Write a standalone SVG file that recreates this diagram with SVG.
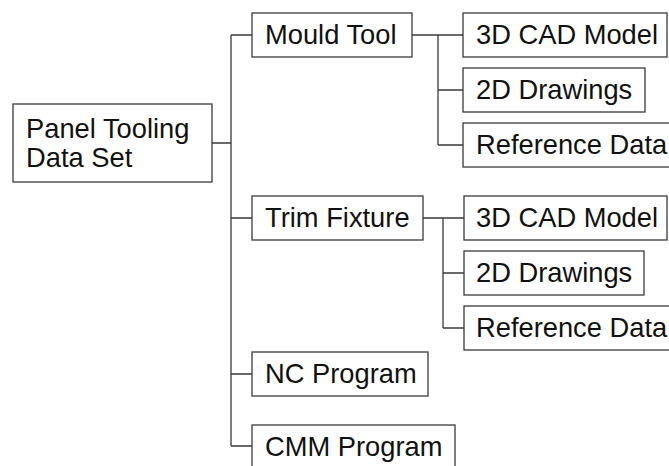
<svg xmlns="http://www.w3.org/2000/svg" width="669" height="466" viewBox="0 0 669 466">
<style>
.box{fill:#fff;stroke:#3a3a3a;stroke-width:1.3}
.t{font-family:"Liberation Sans",Arial,sans-serif;font-size:27.3px;fill:#111}
.c{fill:none;stroke:#3a3a3a;stroke-width:1.3}
</style>
<rect width="669" height="466" fill="#fff"/>
<g id="connectors">
<path class="c" d="M212 143H231M231 35V446M231 35H252M231 218H252M231 374H252M231 446H252"/>
<path class="c" d="M412 35H463M438 35V145M438 90H463M438 145H463"/>
<path class="c" d="M423 218H464M443 218V328M443 273H464M443 328H464"/>
</g>
<g id="root"><rect class="box" x="13" y="104" width="199" height="78"/><text class="t" x="26" y="138">Panel Tooling</text><text class="t" x="26" y="167">Data Set</text></g>
<g id="mould"><rect class="box" x="252" y="13" width="160" height="44"/><text class="t" x="265" y="44">Mould Tool</text></g>
<g id="mould-cad"><rect class="box" x="463" y="13" width="204" height="44"/><text class="t" x="476" y="44">3D CAD Model</text></g>
<g id="mould-2d"><rect class="box" x="463" y="68" width="182" height="44"/><text class="t" x="476" y="99">2D Drawings</text></g>
<g id="mould-ref"><rect class="box" x="463" y="123" width="220" height="44"/><text class="t" x="476" y="154">Reference Data</text></g>
<g id="trim"><rect class="box" x="252" y="196" width="171" height="44"/><text class="t" x="265" y="227">Trim Fixture</text></g>
<g id="trim-cad"><rect class="box" x="464" y="196" width="203" height="44"/><text class="t" x="476" y="227">3D CAD Model</text></g>
<g id="trim-2d"><rect class="box" x="464" y="251" width="180" height="44"/><text class="t" x="476" y="282">2D Drawings</text></g>
<g id="trim-ref"><rect class="box" x="464" y="306" width="220" height="44"/><text class="t" x="476" y="337">Reference Data</text></g>
<g id="nc"><rect class="box" x="252" y="352" width="176" height="44"/><text class="t" x="265" y="383">NC Program</text></g>
<g id="cmm"><rect class="box" x="252" y="425" width="203" height="48"/><text class="t" x="265" y="456">CMM Program</text></g>
</svg>
